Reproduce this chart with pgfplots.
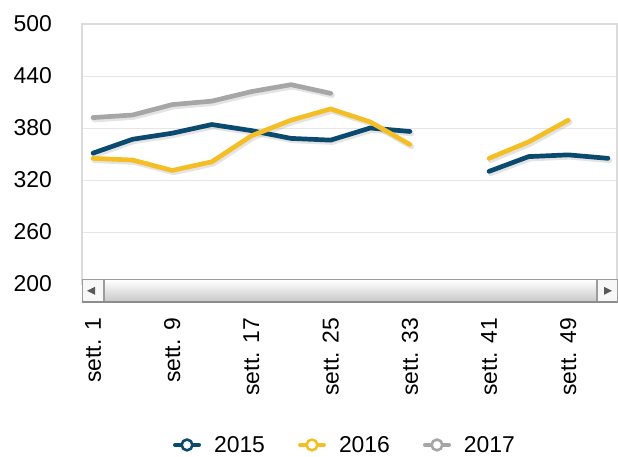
\documentclass[border=0pt]{standalone}
\usepackage{fontspec}
\setmainfont{Liberation Sans}
\usepackage{pgfplots}
\usepackage{pgfplotstable}
\pgfplotsset{compat=1.18}
\definecolor{c15}{HTML}{0B4A6F}
\definecolor{c16}{HTML}{F4BE26}
\definecolor{c17}{HTML}{A6A6A6}
\definecolor{gridc}{HTML}{E6E6E6}
\definecolor{sbborder}{HTML}{9C9C9C}
\pgfplotstableread{
i a b c
0 351 345 392
1 367 343 395
2 374 331 407
3 384 341 411
4 377 371 422
5 368 389 430
6 366 402 420
7 380 387 nan
8 376 361 nan
9 nan nan nan
10 330 345 nan
11 347 364 nan
12 349 389 nan
13 345 nan nan
}\data
\begin{document}
\begin{tikzpicture}
\useasboundingbox (-82bp,-173bp) rectangle (536bp,284bp);
\begin{axis}[
  at={(0,0)}, anchor=south west,
  scale only axis, width=535bp, height=260bp,
  xmin=-0.278, xmax=13.23, ymin=200, ymax=500,
  ytick={200,260,...,500},
  xtick={0,2,...,12},
  xticklabels={sett. 1,sett. 9,sett. 17,sett. 25,sett. 33,sett. 41,sett. 49},
  ymajorgrids, grid style={gridc, line width=1bp},
  axis line style={draw=black!14, line width=1.2bp},
  major tick length=0pt,
  tick label style={font=\fontsize{23}{27}\selectfont},
  /pgf/number format/assume math mode=true,
  yticklabel style={anchor=east, inner sep=0pt, xshift=-30bp},
  xticklabel style={inner sep=0pt, yshift=-34bp, rotate=90, anchor=east},
  unbounded coords=jump,
  clip=false,
  legend columns=3,
  legend style={at={(0.4897,-0.619)}, anchor=center, draw=none, fill=none,
    font=\fontsize{23}{27}\selectfont,
    nodes={inner sep=0pt, anchor=west},
    /tikz/every odd column/.append style={column sep=13bp},
    /tikz/every even column/.append style={column sep=33bp}},
  legend image code/.code={
    \draw[#1, line width=4bp, line cap=round] (0bp,0bp) -- (24bp,0bp);
    \draw[#1, line width=2.6bp, fill=white] (12bp,0bp) circle (5.4bp);
  },
  every axis plot/.append style={line cap=round, line join=round},
]
% shadows
\addplot[forget plot, black!30, opacity=0.35, line width=5.5bp, xshift=1.5bp, yshift=-2bp] table[x=i, y=c] {\data};
\addplot[forget plot, black!30, opacity=0.35, line width=5.5bp, xshift=1.5bp, yshift=-2bp] table[x=i, y=a] {\data};
\addplot[forget plot, black!30, opacity=0.35, line width=5.5bp, xshift=1.5bp, yshift=-2bp] table[x=i, y=b] {\data};
% series
\addplot[c15, line width=4.7bp] table[x=i, y=a] {\data};
\addlegendentry{2015}
\addplot[c16, line width=4.7bp] table[x=i, y=b] {\data};
\addlegendentry{2016}
\addplot[c17, line width=4.7bp] table[x=i, y=c] {\data};
\addlegendentry{2017}
\end{axis}
% scrollbar (decoration)
\fill[black!3] (0bp,4bp) rectangle (535bp,-18bp);
\shade[top color=white, bottom color=black!22] (22bp,4bp) rectangle (515bp,-18bp);
\draw[sbborder, line width=1bp] (0bp,4bp) rectangle (535bp,-18bp);
\draw[sbborder, line width=1.5bp] (22bp,4bp) -- (22bp,-18bp);
\draw[sbborder, line width=1.5bp] (515bp,4bp) -- (515bp,-18bp);
\draw[black!45, line width=1.2bp] (0bp,-18bp) -- (535bp,-18bp);
\fill[black!65] (5bp,-6.8bp) -- (13bp,-2.8bp) -- (13bp,-10.8bp) -- cycle;
\fill[black!65] (530bp,-6.8bp) -- (522bp,-2.8bp) -- (522bp,-10.8bp) -- cycle;
\end{tikzpicture}
\end{document}
